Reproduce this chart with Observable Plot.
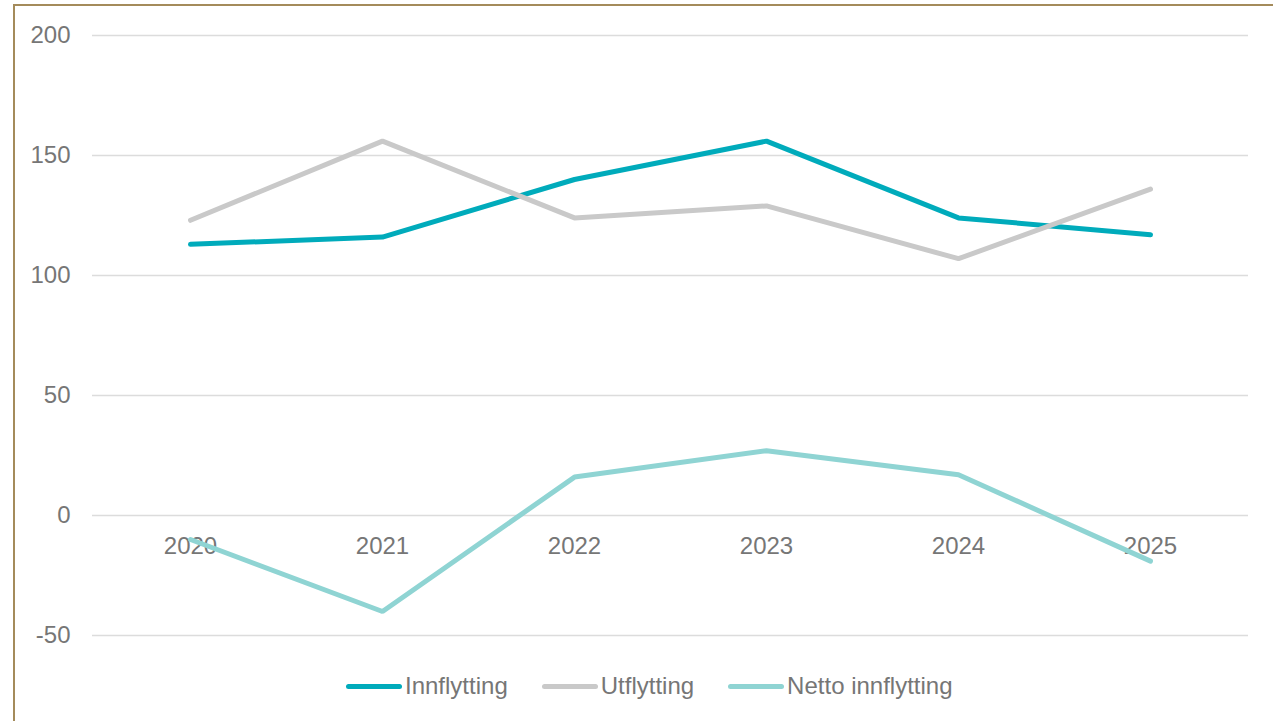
<!DOCTYPE html>
<html>
<head>
<meta charset="utf-8">
<script src="https://cdn.jsdelivr.net/npm/d3@7"></script>
<script src="https://cdn.jsdelivr.net/npm/@observablehq/plot@0.6"></script>
<style>
  html, body { margin: 0; padding: 0; background: #fff; overflow: hidden; }
  body { width: 1273px; height: 721px; position: relative; font-family: "Liberation Sans", Arial, sans-serif; }
  #frame { position: absolute; left: 13px; top: 4px; width: 1400px; height: 800px; border-left: 2px solid #a48b5b; border-top: 2px solid #a48b5b; }
  #chart { position: absolute; left: 0; top: 0; }
  #legend { position: absolute; left: 346px; top: 672px; display: flex; align-items: center; font-size: 24px; color: #767676; }
  .item { display: flex; align-items: center; margin-right: 34px; }
  .sw { width: 56px; height: 5px; border-radius: 3px; margin-right: 3px; }
</style>
</head>
<body>
<div id="frame"></div>
<div id="chart"></div>
<div id="legend"></div>
<script>
const years = ["2020", "2021", "2022", "2023", "2024", "2025"];
const seriesNames = ["Innflytting", "Utflytting", "Netto innflytting"];
const innflytting = [113, 116, 140, 156, 124, 117];
const utflytting = [123, 156, 124, 129, 107, 136];
const nettoInnflytting = [-10, -40, 16, 27, 17, -19];
const yTicks = [-50, 0, 50, 100, 150, 200];
const colors = ["#00abbb", "#c9c9c9", "#8fd4d3"];

const valuesBySeries = [innflytting, utflytting, nettoInnflytting];
const data = [];
seriesNames.forEach((s, i) => years.forEach((y, j) => data.push({series: s, year: y, value: valuesBySeries[i][j]})));

const plot = Plot.plot({
  width: 1273,
  height: 660,
  marginLeft: 92,
  marginRight: 25,
  marginTop: 35,
  marginBottom: 25,
  style: {fontFamily: "'Liberation Sans', Arial, sans-serif", fontSize: "24px", color: "#767676", background: "transparent"},
  x: {type: "point", domain: years, padding: 0.5, axis: null},
  y: {domain: [-50, 200], ticks: yTicks, label: null, tickSize: 0, tickPadding: 22, tickFormat: d => d < 0 ? "-" + Math.abs(d) : String(d)},
  color: {domain: seriesNames, range: colors},
  marks: [
    Plot.gridY(yTicks, {stroke: "#dcdcdc", strokeOpacity: 1, strokeWidth: 1.5}),
    Plot.axisY(yTicks, {tickSize: 0, tickPadding: 22, label: null, fill: "#767676", fontSize: 24, tickFormat: d => d < 0 ? "-" + Math.abs(d) : String(d)}),
    Plot.text(years, {x: d => d, y: () => 0, dy: 31, text: d => d, fill: "#767676", fontSize: 24}),
    Plot.line(data, {x: "year", y: "value", z: "series", stroke: "series", strokeWidth: 5, strokeLinecap: "round", strokeLinejoin: "miter"})
  ]
});
document.getElementById("chart").appendChild(plot);

const legend = document.getElementById("legend");
seriesNames.forEach((s, i) => {
  const item = document.createElement("div");
  item.className = "item";
  const sw = document.createElement("div");
  sw.className = "sw";
  sw.style.background = colors[i];
  const t = document.createElement("span");
  t.textContent = s;
  item.appendChild(sw);
  item.appendChild(t);
  legend.appendChild(item);
});
</script>
</body>
</html>
